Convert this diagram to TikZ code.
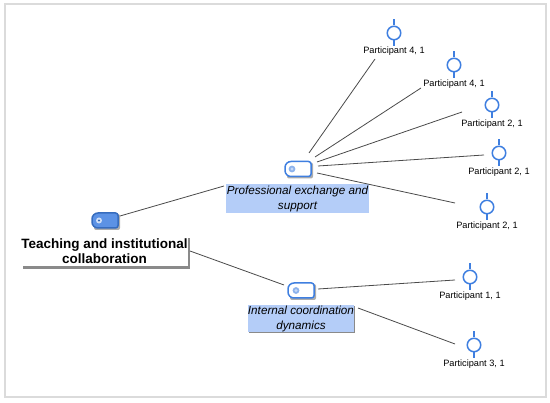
\documentclass[tikz,border=0pt]{standalone}
\usepackage{fontspec}
\setmainfont{Liberation Sans}
\definecolor{iconblue}{HTML}{3F7FE0}
\definecolor{lblue}{HTML}{B4CDF8}
\definecolor{shadowg}{HTML}{8A8A8A}
\definecolor{linec}{HTML}{4A4A4A}
\tikzset{
 x=1pt,y=-1pt,
 conn/.style={draw=linec,line width=0.8pt},
 partlabel/.style={font=\fontsize{9.2}{11}\selectfont,inner sep=0pt,anchor=center},
 catlabel/.style={font=\fontsize{11.7}{14.7}\selectfont\itshape,align=center,inner sep=0pt},
 pin/.style={draw=iconblue,line width=1.5pt},
}
\newcommand{\pinicon}[3]{%
 \node[circle,draw=iconblue,line width=1.5pt,minimum size=13.5pt,inner sep=0pt] (#3) at (#1,#2) {};
 \draw[pin] (#1,#2-13.5) -- (#3.north);
 \draw[pin] (#3.south) -- (#1,#2+13.5);
}
% tag icon: centre x, y, name, fill colour, border colour
\newcommand{\tagicon}[5]{%
 \fill[shadowg!70,rounded corners=2pt] (#1-11,#2-6.5) rectangle (#1+15,#2+9.5);
 \draw[draw=#5,fill=#4,line width=1.5pt] [rounded corners=6pt] (#1,#2-7.5) -- (#1-13,#2-7.5) -- (#1-13,#2+7.5) -- (#1,#2+7.5) [rounded corners=2.5pt] -- (#1+13,#2+7.5) -- (#1+13,#2-7.5) -- cycle;
 \coordinate (#3) at (#1,#2);
}
\begin{document}
\begin{tikzpicture}
\useasboundingbox (0,0) rectangle (550,403);
\draw[draw=black!14,line width=2pt] (4.5,4.5) -- (4.5,397.5) -- (546,397.5) -- (546,4.5) -- cycle;
% root
\fill[shadowg] (23,238) rectangle (190,269.5);
\node[fill=white,minimum width=165pt,minimum height=31pt,inner sep=0pt,align=center,font=\fontsize{13.5}{15}\selectfont\bfseries] (root) at (104.5,251) {Teaching and institutional\\collaboration};
\tagicon{105}{220.5}{rooticon}{iconblue!85!white}{iconblue!85!black}
\fill[white!75!iconblue] (99,220.5) circle (3pt);
\fill[iconblue!80!black] (99,220.5) circle (1.2pt);
% category 1
\node[fill=lblue,minimum width=143pt,minimum height=29pt,inner sep=0pt] (cat1bg) at (297.5,198.5) {};
\node[catlabel] (cat1) at (297.5,198.8) {Professional exchange and\\support};
\tagicon{298}{169}{cat1icon}{white}{iconblue}
\fill[iconblue!60!white] (292,169) circle (3.4pt);
\fill[white!70!iconblue] (292,169) circle (1.6pt);
% category 2
\node[fill=shadowg,minimum width=106pt,minimum height=27pt,inner sep=0pt] at (302,320) {};
\node[fill=lblue,minimum width=106pt,minimum height=27pt,inner sep=0pt] (cat2bg) at (301,318.5) {};
\node[catlabel] (cat2) at (301,319.2) {Internal coordination\\dynamics};
\tagicon{301}{290.5}{cat2icon}{white}{iconblue}
\fill[iconblue!60!white] (296,290.5) circle (3.4pt);
\fill[white!70!iconblue] (296,290.5) circle (1.6pt);
% participants
\pinicon{394}{33}{p1}
\node[partlabel] (l1) at (394,51) {Participant 4, 1};
\pinicon{454}{65}{p2}
\node[partlabel] (l2) at (454,84) {Participant 4, 1};
\pinicon{492}{105}{p3}
\node[partlabel] (l3) at (492,124) {Participant 2, 1};
\pinicon{499}{153}{p4}
\node[partlabel] (l4) at (499,172) {Participant 2, 1};
\pinicon{487}{207}{p5}
\node[partlabel] (l5) at (487,226) {Participant 2, 1};
\pinicon{470}{277}{p6}
\node[partlabel] (l6) at (470,296) {Participant 1, 1};
\pinicon{474}{345}{p7}
\node[partlabel] (l7) at (474,364) {Participant 3, 1};
% connectors
\coordinate (c1a) at (309,153);\coordinate (c1b) at (375,59);
\coordinate (c2a) at (315,157);\coordinate (c2b) at (421,88);
\coordinate (c3a) at (317,162);\coordinate (c3b) at (462,112);
\coordinate (c4a) at (318,166);\coordinate (c4b) at (484,155);
\coordinate (c5a) at (317,173);\coordinate (c5b) at (455,203);
\coordinate (c6a) at (318,289);\coordinate (c6b) at (455,280);
\coordinate (c7a) at (358,308);\coordinate (c7b) at (455,344);
\coordinate (c8a) at (120,216);\coordinate (c8b) at (224,186);
\coordinate (c9a) at (190,251);\coordinate (c9b) at (284,285);
\foreach \a/\b in {c1a/c1b,c2a/c2b,c3a/c3b,c4a/c4b,c5a/c5b,c6a/c6b,c7a/c7b,c8a/c8b,c9a/c9b} \draw[conn] (\a) -- (\b);
\end{tikzpicture}
\end{document}
